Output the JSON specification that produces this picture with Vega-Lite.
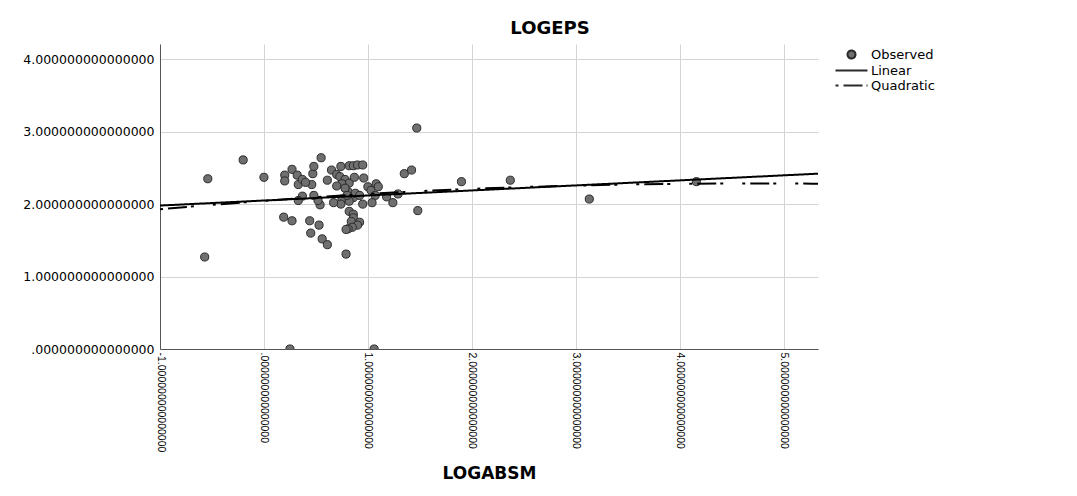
{
  "$schema": "https://vega.github.io/schema/vega-lite/v6.json",
  "width": 658,
  "height": 305,
  "autosize": "none",
  "padding": {"left": 160, "top": 44, "right": 259, "bottom": 147},
  "background": "white",
  "config": {
    "view": {"stroke": null}
  },
  "title": {"text": "LOGEPS", "anchor": "middle", "dx": 61, "offset": 6, "font": "DejaVu Sans", "fontSize": 18, "fontWeight": "bold", "color": "black"},
  "datasets": {
    "obs": [
      {"series": "Observed", "x": 1.47, "y": 3.05},
      {"series": "Observed", "x": -0.20, "y": 2.61},
      {"series": "Observed", "x": -0.54, "y": 2.35},
      {"series": "Observed", "x": 0.00, "y": 2.37},
      {"series": "Observed", "x": -0.57, "y": 1.27},
      {"series": "Observed", "x": 0.25, "y": 0.0},
      {"series": "Observed", "x": 1.06, "y": 0.0},
      {"series": "Observed", "x": 1.90, "y": 2.31},
      {"series": "Observed", "x": 2.37, "y": 2.33},
      {"series": "Observed", "x": 1.48, "y": 1.91},
      {"series": "Observed", "x": 1.35, "y": 2.42},
      {"series": "Observed", "x": 1.42, "y": 2.47},
      {"series": "Observed", "x": 0.79, "y": 1.31},
      {"series": "Observed", "x": 0.55, "y": 2.64},
      {"series": "Observed", "x": 0.27, "y": 2.48},
      {"series": "Observed", "x": 0.20, "y": 2.40},
      {"series": "Observed", "x": 0.20, "y": 2.32},
      {"series": "Observed", "x": 0.32, "y": 2.40},
      {"series": "Observed", "x": 0.33, "y": 2.27},
      {"series": "Observed", "x": 0.37, "y": 2.34},
      {"series": "Observed", "x": 0.47, "y": 2.42},
      {"series": "Observed", "x": 0.48, "y": 2.52},
      {"series": "Observed", "x": 0.46, "y": 2.27},
      {"series": "Observed", "x": 0.61, "y": 2.33},
      {"series": "Observed", "x": 0.65, "y": 2.47},
      {"series": "Observed", "x": 0.70, "y": 2.41},
      {"series": "Observed", "x": 0.74, "y": 2.52},
      {"series": "Observed", "x": 0.82, "y": 2.53},
      {"series": "Observed", "x": 0.86, "y": 2.53},
      {"series": "Observed", "x": 0.90, "y": 2.54},
      {"series": "Observed", "x": 0.95, "y": 2.54},
      {"series": "Observed", "x": 0.73, "y": 2.38},
      {"series": "Observed", "x": 0.78, "y": 2.34},
      {"series": "Observed", "x": 0.82, "y": 2.29},
      {"series": "Observed", "x": 0.87, "y": 2.37},
      {"series": "Observed", "x": 0.96, "y": 2.36},
      {"series": "Observed", "x": 0.75, "y": 2.28},
      {"series": "Observed", "x": 1.00, "y": 2.24},
      {"series": "Observed", "x": 1.03, "y": 2.19},
      {"series": "Observed", "x": 1.08, "y": 2.28},
      {"series": "Observed", "x": 1.10, "y": 2.24},
      {"series": "Observed", "x": 1.29, "y": 2.14},
      {"series": "Observed", "x": 1.18, "y": 2.10},
      {"series": "Observed", "x": 1.24, "y": 2.02},
      {"series": "Observed", "x": 1.07, "y": 2.12},
      {"series": "Observed", "x": 1.04, "y": 2.02},
      {"series": "Observed", "x": 0.95, "y": 2.00},
      {"series": "Observed", "x": 0.86, "y": 2.09},
      {"series": "Observed", "x": 0.81, "y": 2.17},
      {"series": "Observed", "x": 0.75, "y": 2.07},
      {"series": "Observed", "x": 0.74, "y": 2.00},
      {"series": "Observed", "x": 0.67, "y": 2.02},
      {"series": "Observed", "x": 0.54, "y": 1.99},
      {"series": "Observed", "x": 0.52, "y": 2.05},
      {"series": "Observed", "x": 0.48, "y": 2.12},
      {"series": "Observed", "x": 0.37, "y": 2.11},
      {"series": "Observed", "x": 0.33, "y": 2.05},
      {"series": "Observed", "x": 0.82, "y": 2.04},
      {"series": "Observed", "x": 0.82, "y": 1.90},
      {"series": "Observed", "x": 0.86, "y": 1.86},
      {"series": "Observed", "x": 0.86, "y": 1.81},
      {"series": "Observed", "x": 0.84, "y": 1.76},
      {"series": "Observed", "x": 0.92, "y": 1.75},
      {"series": "Observed", "x": 0.90, "y": 1.71},
      {"series": "Observed", "x": 0.85, "y": 1.68},
      {"series": "Observed", "x": 0.81, "y": 1.66},
      {"series": "Observed", "x": 0.79, "y": 1.65},
      {"series": "Observed", "x": 0.19, "y": 1.82},
      {"series": "Observed", "x": 0.27, "y": 1.77},
      {"series": "Observed", "x": 0.44, "y": 1.77},
      {"series": "Observed", "x": 0.53, "y": 1.71},
      {"series": "Observed", "x": 0.45, "y": 1.60},
      {"series": "Observed", "x": 0.56, "y": 1.52},
      {"series": "Observed", "x": 0.61, "y": 1.44},
      {"series": "Observed", "x": 3.13, "y": 2.07},
      {"series": "Observed", "x": 4.16, "y": 2.31},
      {"series": "Observed", "x": 0.40, "y": 2.30},
      {"series": "Observed", "x": 0.78, "y": 2.22},
      {"series": "Observed", "x": 0.80, "y": 2.12},
      {"series": "Observed", "x": 0.70, "y": 2.25},
      {"series": "Observed", "x": 0.88, "y": 2.15},
      {"series": "Observed", "x": 0.92, "y": 2.12}
    ],
    "fit": [
      {"series": "Linear", "x": -1.0, "y": 1.98},
      {"series": "Linear", "x": 5.33, "y": 2.42},
      {"series": "Quadratic", "x": -1.0, "y": 1.93},
      {"series": "Quadratic", "x": 0.0, "y": 2.045},
      {"series": "Quadratic", "x": 1.0, "y": 2.14},
      {"series": "Quadratic", "x": 2.0, "y": 2.21},
      {"series": "Quadratic", "x": 3.0, "y": 2.255},
      {"series": "Quadratic", "x": 4.0, "y": 2.28},
      {"series": "Quadratic", "x": 5.0, "y": 2.285},
      {"series": "Quadratic", "x": 5.33, "y": 2.28}
    ]
  },
  "encoding": {
    "x": {
      "field": "x", "type": "quantitative",
      "scale": {"domain": [-1, 5.33], "nice": false, "zero": false},
      "axis": {
        "title": "LOGABSM",
        "values": [-1, 0, 1, 2, 3, 4, 5],
        "labelExpr": "datum.value == 0 ? '.000000000000000' : (datum.value < 0 ? '-' + format(-datum.value, '.15f') : format(datum.value, '.15f'))",
        "labelAngle": 90, "labelAlign": "left", "labelBaseline": "middle",
        "labelFont": "Liberation Sans", "labelFontSize": 10.5, "labelColor": "black", "labelPadding": 3,
        "ticks": false, "tickSize": 0,
        "domainColor": "#555555", "gridColor": "#d4d4d4",
        "titleFont": "DejaVu Sans", "titleFontSize": 17, "titleFontWeight": "bold", "titleColor": "black", "titlePadding": 14
      }
    },
    "y": {
      "field": "y", "type": "quantitative",
      "scale": {"domain": [0, 4.21], "nice": false},
      "axis": {
        "title": null,
        "values": [0, 1, 2, 3, 4],
        "labelExpr": "datum.value == 0 ? '.000000000000000' : format(datum.value, '.15f')",
        "labelFont": "DejaVu Sans", "labelFontSize": 12.5, "labelColor": "black", "labelPadding": 6,
        "ticks": false, "tickSize": 0,
        "domainColor": "#555555", "gridColor": "#d4d4d4"
      }
    }
  },
  "layer": [
    {
      "data": {"name": "obs"},
      "mark": {"type": "point", "filled": true, "fill": "#6f6f6f", "stroke": "#2a2a2a", "strokeWidth": 1, "size": 66, "opacity": 1, "clip": true},
      "encoding": {
        "shape": {
          "field": "series", "type": "nominal",
          "scale": {"domain": ["Observed", "Linear", "Quadratic"], "range": ["circle", "M-4,0H4", "M-4,0H4"]},
          "legend": {"title": null, "orient": "right", "offset": 19, "padding": 4, "labelFont": "DejaVu Sans", "labelFontSize": 13, "labelColor": "black", "labelOffset": 13, "rowPadding": 1, "symbolSize": 64, "symbolStrokeWidth": 2}
        }
      }
    },
    {
      "data": {"name": "fit"},
      "mark": {"type": "line", "color": "black", "strokeWidth": 2, "interpolate": "monotone"},
      "encoding": {
        "strokeDash": {
          "field": "series", "type": "nominal",
          "scale": {"domain": ["Observed", "Linear", "Quadratic"], "range": [[1, 0], [1, 0], [3, 5, 19, 4, 3, 19]]},
          "legend": {"title": null, "orient": "right", "offset": 19, "padding": 4, "labelFont": "DejaVu Sans", "labelFontSize": 13, "labelColor": "black", "labelOffset": 13, "rowPadding": 1, "symbolSize": 64, "symbolStrokeWidth": 2}
        }
      }
    }
  ]
}
